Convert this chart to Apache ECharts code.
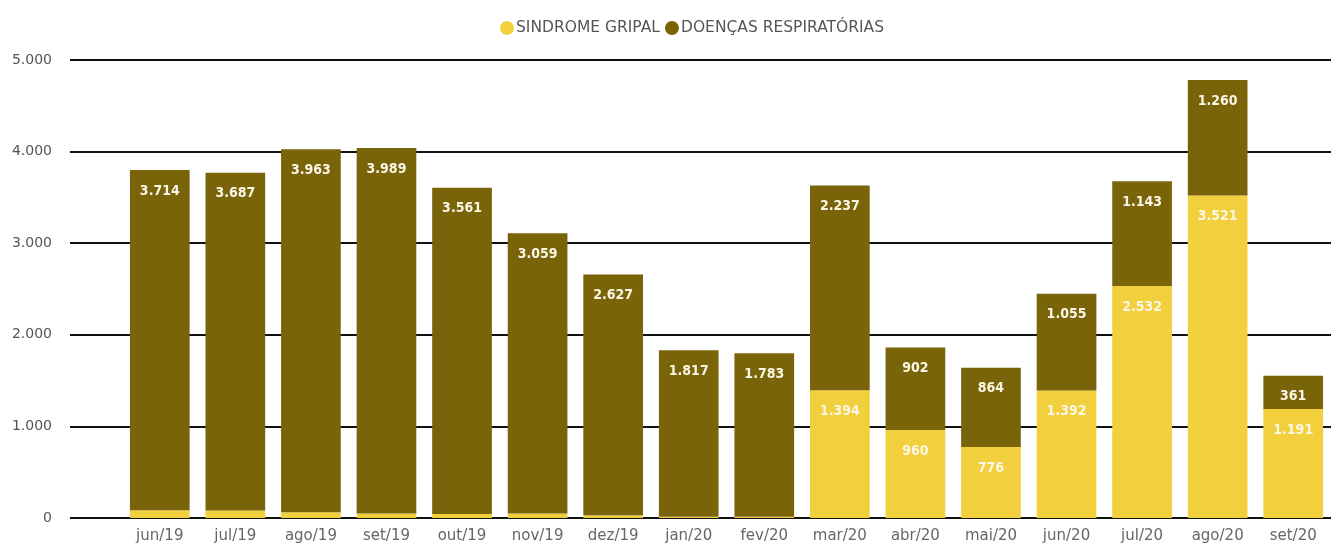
<!DOCTYPE html>
<html>
<head>
<meta charset="utf-8">
<script src="https://cdn.jsdelivr.net/npm/echarts@6/dist/echarts.min.js"></script>
<style>
html,body{margin:0;padding:0;background:#fff;}
#chart{width:1331px;height:548px;}
</style>
</head>
<body>
<div id="chart"></div>
<script>
const categories = ['jun/19','jul/19','ago/19','set/19','out/19','nov/19','dez/19','jan/20','fev/20','mar/20','abr/20','mai/20','jun/20','jul/20','ago/20','set/20'];
const sindromeGripal = [85, 82, 62, 50, 45, 50, 30, 15, 15, 1394, 960, 776, 1392, 2532, 3521, 1191];
const doencasRespiratorias = [3714, 3687, 3963, 3989, 3561, 3059, 2627, 1817, 1783, 2237, 902, 864, 1055, 1143, 1260, 361];
const yTicks = [0, 1000, 2000, 3000, 4000, 5000];

const fmt = v => v.toLocaleString('de-DE');
const labelFont = {fontFamily: 'DejaVu Sans Condensed', fontWeight: 'bold', fontSize: 14, color: '#fbf7e6'};

const chart = echarts.init(document.getElementById('chart'));
chart.setOption({
  animation: false,
  legend: {
    top: 15, left: 495,
    itemWidth: 14, itemHeight: 14, itemGap: 5,
    icon: 'circle',
    textStyle: {fontFamily: 'DejaVu Sans', fontSize: 15.5, color: '#555', padding: [0, 0, 0, -3]},
    data: ['SINDROME GRIPAL', 'DOENÇAS RESPIRATÓRIAS']
  },
  grid: [
    {left: 70, right: 0, top: 60, bottom: 30},
    {left: 122, right: 0, top: 60, bottom: 30}
  ],
  xAxis: [
    {gridIndex: 0, type: 'value', min: 0, max: 1, show: false},
    {gridIndex: 1, type: 'category', data: categories,
     axisLine: {show: false}, axisTick: {show: false},
     axisLabel: {fontFamily: 'DejaVu Sans', fontSize: 15, color: '#666', margin: 11}}
  ],
  yAxis: [
    {gridIndex: 0, type: 'value', min: 0, max: 5000, interval: 1000,
     axisLine: {show: false}, axisTick: {show: false},
     splitLine: {lineStyle: {color: '#111', width: 2}},
     axisLabel: {fontFamily: 'DejaVu Sans', fontSize: 14, color: '#555', margin: 18,
       formatter: v => yTicks.includes(v) ? fmt(v) : ''}},
    {gridIndex: 1, type: 'value', min: 0, max: 5000, interval: 1000, show: false, splitLine: {show: false}}
  ],
  series: [
    {name: 'SINDROME GRIPAL', type: 'bar', stack: 't', xAxisIndex: 1, yAxisIndex: 1,
     barWidth: '79%', data: sindromeGripal,
     itemStyle: {color: '#f2cf3d'},
     label: {show: true, position: 'insideTop', distance: 14, ...labelFont,
       formatter: p => p.value >= 200 ? fmt(p.value) : ''}},
    {name: 'DOENÇAS RESPIRATÓRIAS', type: 'bar', stack: 't', xAxisIndex: 1, yAxisIndex: 1,
     barWidth: '79%', data: doencasRespiratorias,
     itemStyle: {color: '#7a6409'},
     label: {show: true, position: 'insideTop', distance: 14, ...labelFont,
       formatter: p => fmt(p.value)}}
  ]
});
</script>
</body>
</html>
